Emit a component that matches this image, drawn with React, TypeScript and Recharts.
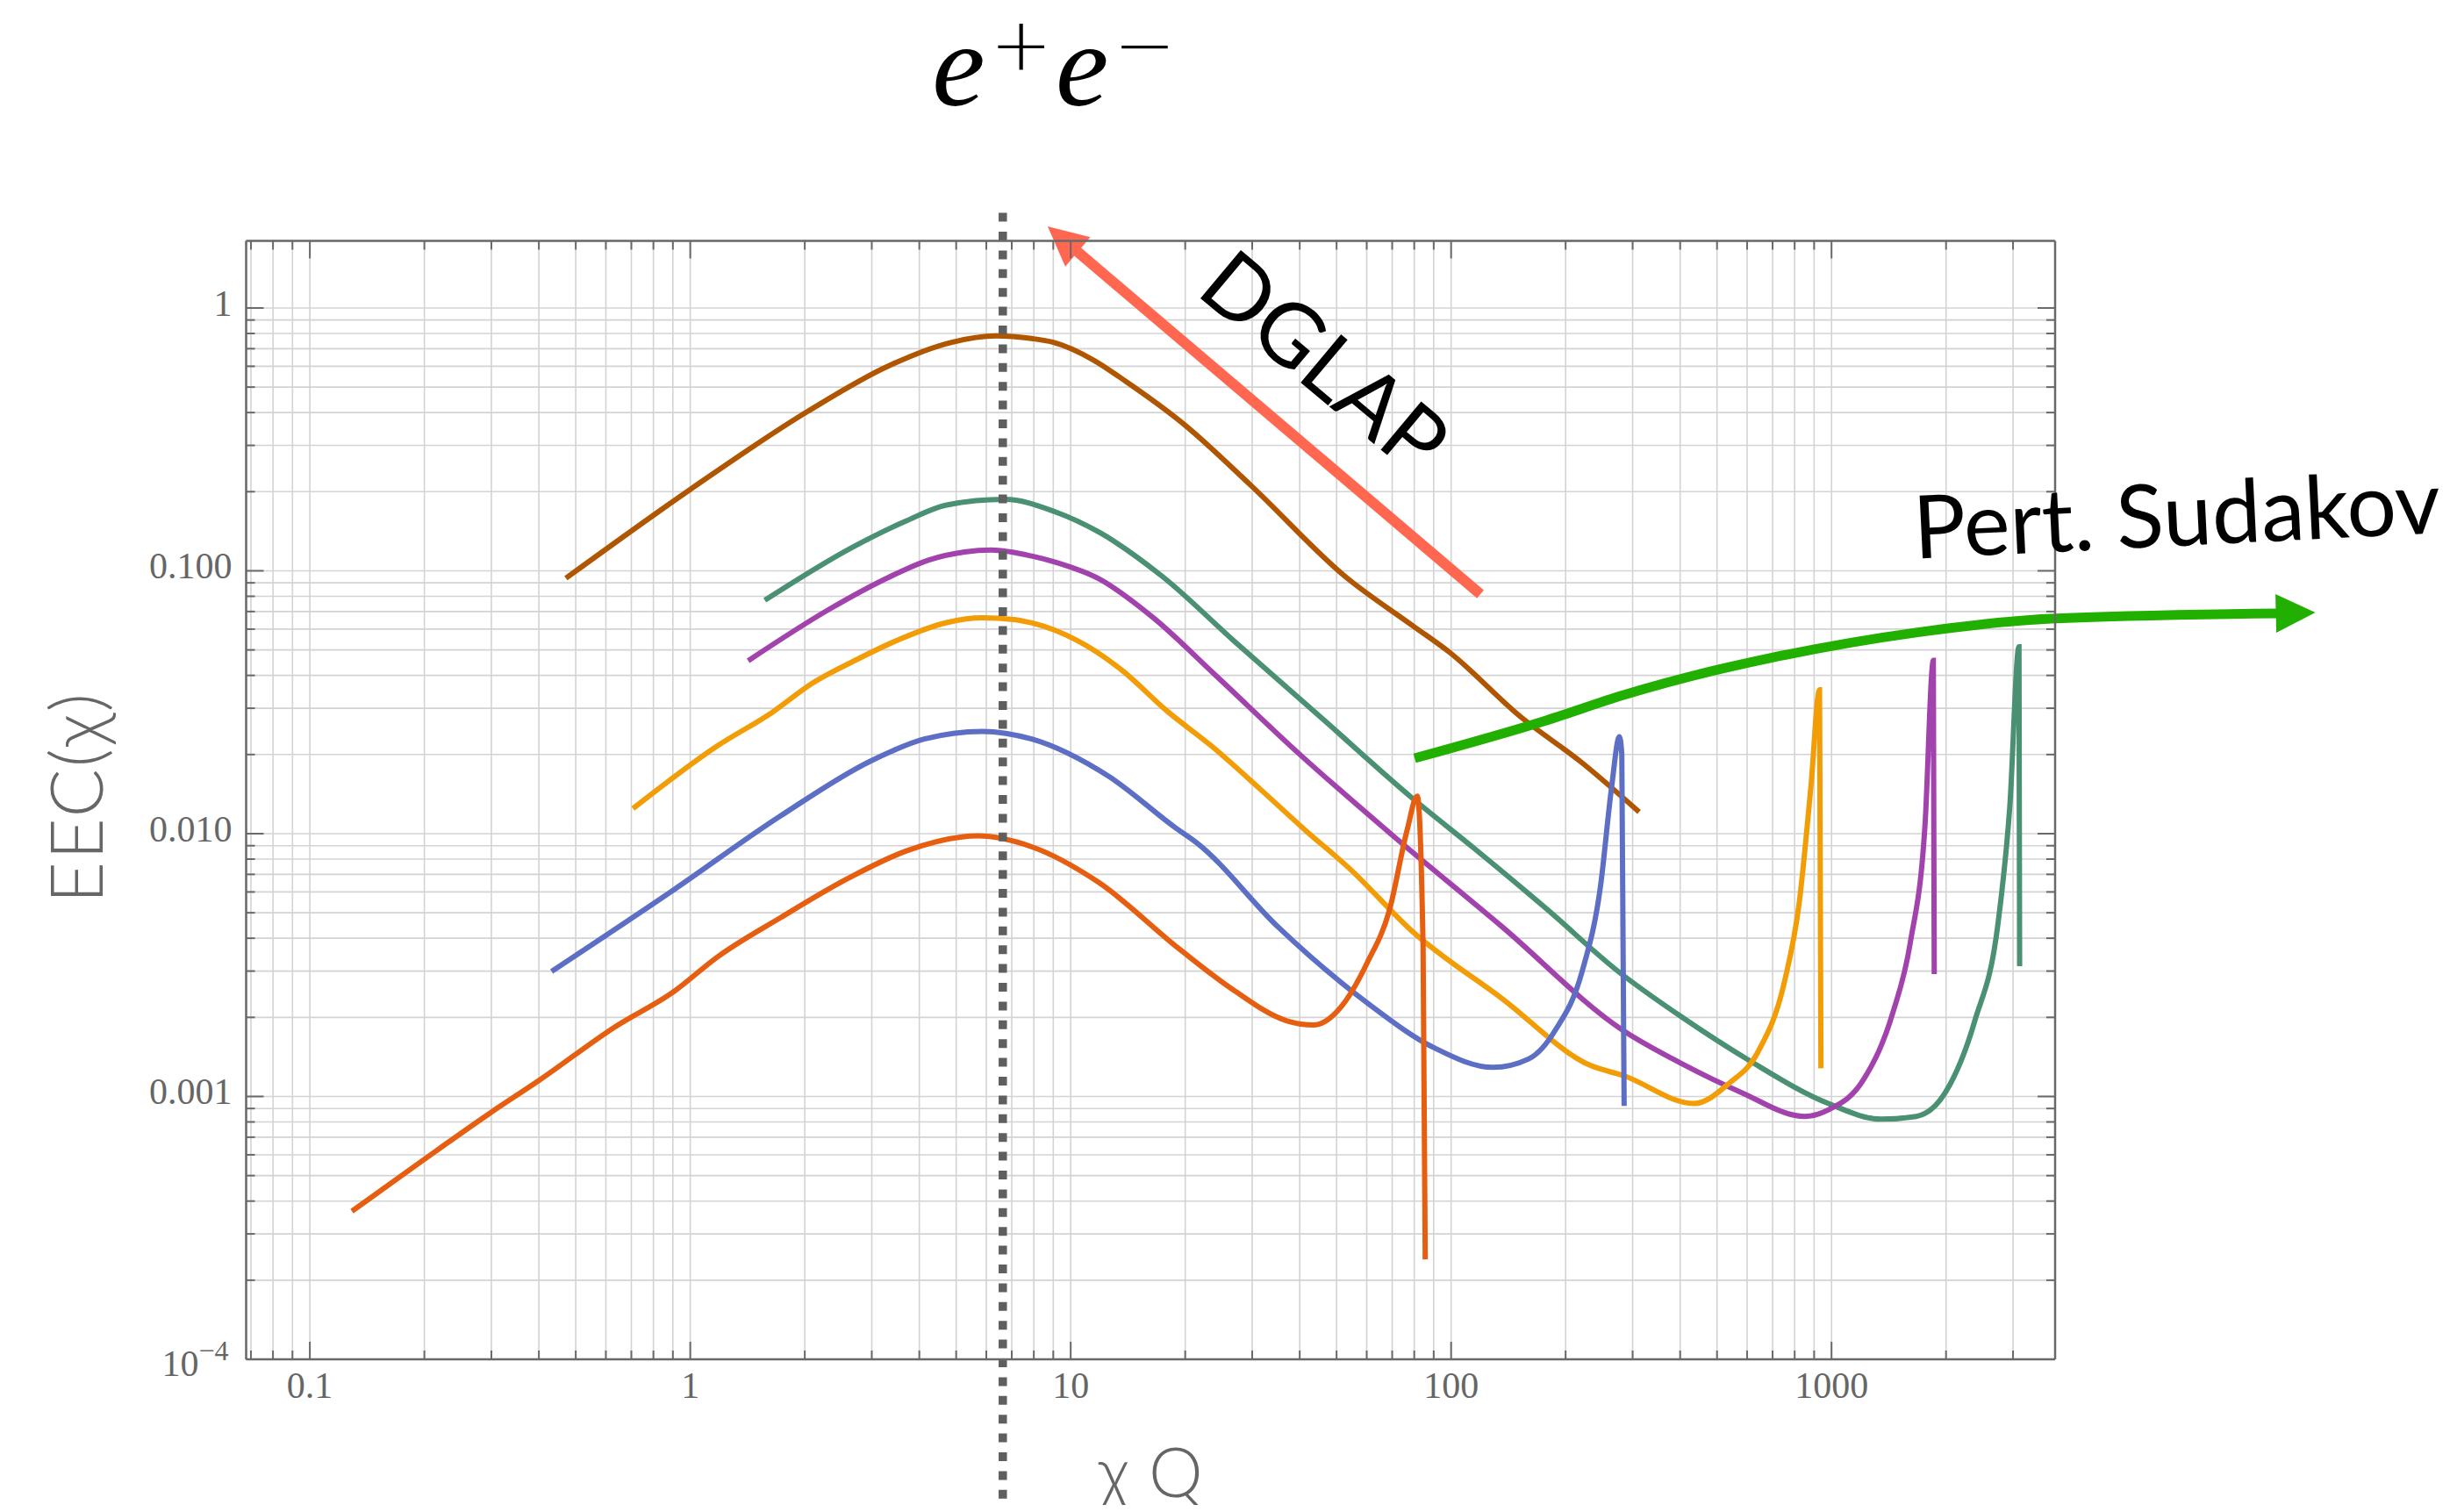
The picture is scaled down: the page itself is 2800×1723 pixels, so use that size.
import React from 'react';
import { ComposedChart, Line, XAxis, YAxis, CartesianGrid, ReferenceLine, ReferenceDot, Curve } from 'recharts';

// axis ranges and ticks (log-log frame)
const xDomain = [0.068, 3870];
const yDomain = [0.0001, 1.8];

const xMajor = [0.1, 1, 10, 100, 1000];
const xMajorLabels = ['0.1', '1', '10', '100', '1000'];
const xMinor = [0.07, 0.08, 0.09, 0.2, 0.3, 0.4, 0.5, 0.6, 0.7, 0.8, 0.9, 2, 3, 4, 5, 6, 7, 8, 9,
  20, 30, 40, 50, 60, 70, 80, 90, 200, 300, 400, 500, 600, 700, 800, 900, 2000, 3000];

const yMajor = [0.0001, 0.001, 0.01, 0.1, 1];
const yMajorLabels = ['10', '0.001', '0.010', '0.100', '1'];
const yMajorSup = ['\u22124', '', '', '', ''];
const yMinor = [0.0002, 0.0003, 0.0004, 0.0005, 0.0006, 0.0007, 0.0008, 0.0009,
  0.002, 0.003, 0.004, 0.005, 0.006, 0.007, 0.008, 0.009,
  0.02, 0.03, 0.04, 0.05, 0.06, 0.07, 0.08, 0.09,
  0.2, 0.3, 0.4, 0.5, 0.6, 0.7, 0.8, 0.9];

const xTicks = [...xMajor, ...xMinor].sort((a, b) => a - b);
const yTicks = [...yMajor, ...yMinor].sort((a, b) => a - b);

// EEC curves, [chi*Q, EEC]
const brownCurve = [[0.471, 0.0937], [1.0, 0.204], [2.04, 0.405], [3.32, 0.602], [4.84, 0.739], [6.36, 0.783],
  [7.9, 0.765], [8.97, 0.741], [11.45, 0.635], [14.0, 0.524], [19.8, 0.362], [29.8, 0.211], [52.6, 0.0953],
  [79.3, 0.0618], [99, 0.049], [152, 0.0279], [222, 0.0185], [312, 0.0121]];

const tealCurve = [[1.57, 0.0773], [2.67, 0.123], [3.7, 0.155], [4.72, 0.178], [6.71, 0.187], [9.07, 0.168],
  [11.9, 0.14], [17.4, 0.0953], [26.8, 0.0543], [46.1, 0.0272], [79.3, 0.0136], [115, 0.00879], [178, 0.00518],
  [275, 0.00299], [405, 0.002], [608, 0.00137], [982, 0.00094], [1350, 0.00082], [1670, 0.00084],
  [1995, 0.00104], [2380, 0.00194], [2740, 0.00457], [2943, 0.0128], [3110, 0.0514], [3122, 0.00313]];

const purpleCurve = [[1.42, 0.0455], [2.33, 0.0717], [3.32, 0.0944], [4.24, 0.11], [5.26, 0.118], [6.19, 0.12],
  [7.9, 0.1138], [9.07, 0.108], [11.9, 0.093], [16.4, 0.0667], [24.1, 0.0399], [39.3, 0.0205], [69.3, 0.01],
  [136, 0.00443], [282, 0.00179], [405, 0.00133], [576, 0.00104], [850, 0.00084], [982, 0.00089],
  [1214, 0.00116], [1449, 0.00208], [1611, 0.00385], [1761, 0.0108], [1852, 0.0456], [1862, 0.00292]];

const orangeCurve = [[0.707, 0.01245], [1.18, 0.0216], [1.64, 0.0289], [2.09, 0.0373], [2.67, 0.0451],
  [3.5, 0.0544], [4.72, 0.0635], [5.86, 0.0662], [7.08, 0.0653], [7.92, 0.0633], [10.4, 0.0543], [13.6, 0.042],
  [17.9, 0.0293], [23.4, 0.0216], [31.6, 0.0147], [41.4, 0.0103], [54.1, 0.00736], [78.9, 0.00426],
  [136, 0.00236], [233, 0.00131], [284, 0.0012], [435, 0.00094], [537, 0.00112], [641, 0.00148],
  [752, 0.00273], [822, 0.00543], [883, 0.0152], [930, 0.0353], [938, 0.00128]];

const blueCurve = [[0.432, 0.00299], [0.903, 0.0061], [1.73, 0.0117], [2.98, 0.0189], [4.12, 0.0229],
  [5.86, 0.0245], [7.9, 0.0229], [12.6, 0.0165], [18.9, 0.0105], [21.5, 0.0092], [35.0, 0.00443], [60.2, 0.00227],
  [90.4, 0.00153], [129, 0.00129], [160, 0.00139], [188, 0.00179], [221, 0.00299], [247, 0.00631],
  [264, 0.0149], [277, 0.0234], [281, 0.02], [285, 0.00092]];

const redCurve = [[0.129, 0.000366], [0.198, 0.000571], [0.297, 0.000863], [0.4, 0.00115], [0.634, 0.00184],
  [0.903, 0.0025], [1.18, 0.0034], [1.73, 0.0048], [2.6, 0.00676], [3.7, 0.0086], [5.12, 0.0097], [5.71, 0.0098],
  [7.9, 0.00891], [11.8, 0.00655], [19.3, 0.00364], [26.7, 0.00255], [37.0, 0.00194], [43.5, 0.00187],
  [51.2, 0.00218], [60.2, 0.00323], [68.8, 0.0051], [76.6, 0.0103], [81.5, 0.0139], [84.4, 0.0037], [85.5, 0.00024]];

// annotations, in data coordinates
const peakLineX = 6.63;
const peakLineSpan = [2.3, 2.86e-5];
const dglapArrow = [[119.4, 0.0815], [8.7, 2.045]];
const sudakovArrow = [[80.2, 0.01937], [177.9, 0.02697], [284, 0.03369], [483, 0.04148], [690, 0.04656],
  [1667, 0.0582], [3776, 0.0658], [18700, 0.0694]];
const dglapLabelAt = [41.2, 0.506];
const sudakovLabelAt = [1654, 0.1112];
const titleAt = [9.03, 5.906];

const FRAME = '#696969';
const LABEL = '#666666';
const SERIF = '"Liberation Serif", "DejaVu Serif", serif';
const SANS = 'Lato, "Open Sans", sans-serif';
const GREEN = '#22b000';
const SALMON = '#ff6751';

const series = [
  { name: 'brown', pts: brownCurve, color: '#b05500' },
  { name: 'teal', pts: tealCurve, color: '#4a9073' },
  { name: 'purple', pts: purpleCurve, color: '#a243ad' },
  { name: 'orange', pts: orangeCurve, color: '#f29c06' },
  { name: 'blue', pts: blueCurve, color: '#5c6fc4' },
  { name: 'red', pts: redCurve, color: '#e65e10' },
];

const toData = (pts: number[][]) => pts.map(([x, y]) => ({ x, y }));

function BottomTick(props: any) {
  const { x, y, payload } = props;
  const i = xMajor.indexOf(payload.value);
  return (
    <g>
      <line x1={x} y1={y} x2={x} y2={y - (i >= 0 ? 20 : 10)} stroke={FRAME} strokeWidth={2} />
      {i >= 0 && (
        <text x={x} y={y + 44} textAnchor="middle" fontFamily={SERIF} fontSize={42} fill={LABEL}>
          {xMajorLabels[i]}
        </text>
      )}
    </g>
  );
}

function TopTick(props: any) {
  const { x, y, payload } = props;
  const major = xMajor.indexOf(payload.value) >= 0;
  return <line x1={x} y1={y} x2={x} y2={y + (major ? 20 : 10)} stroke={FRAME} strokeWidth={2} />;
}

function LeftTick(props: any) {
  const { x, y, payload } = props;
  const i = yMajor.indexOf(payload.value);
  return (
    <g>
      <line x1={x} y1={y} x2={x + (i >= 0 ? 20 : 10)} y2={y} stroke={FRAME} strokeWidth={2} />
      {i >= 0 && yMajorSup[i] === '' && (
        <text x={x - 16} y={y + 9} textAnchor="end" fontFamily={SERIF} fontSize={42} fill={LABEL}>
          {yMajorLabels[i]}
        </text>
      )}
      {i >= 0 && yMajorSup[i] !== '' && (
        <text x={x - 20} y={y + 19} textAnchor="end" fontFamily={SERIF} fontSize={42} fill={LABEL}>
          {yMajorLabels[i]}
          <tspan fontSize={32} dy={-18}>{yMajorSup[i]}</tspan>
        </text>
      )}
    </g>
  );
}

function RightTick(props: any) {
  const { x, y, payload } = props;
  const major = yMajor.indexOf(payload.value) >= 0;
  return <line x1={x} y1={y} x2={x - (major ? 20 : 10)} y2={y} stroke={FRAME} strokeWidth={2} />;
}

function head(tipX: number, tipY: number, ux: number, uy: number, len: number, w: number, color: string) {
  const bx = tipX - ux * len;
  const by = tipY - uy * len;
  const px = (-uy * w) / 2;
  const py = (ux * w) / 2;
  return <polygon points={`${tipX},${tipY} ${bx + px},${by + py} ${bx - px},${by - py}`} fill={color} />;
}

function dglapShape(p: any) {
  const { x1, y1, x2, y2 } = p;
  const len = Math.hypot(x2 - x1, y2 - y1) || 1;
  const ux = (x2 - x1) / len;
  const uy = (y2 - y1) / len;
  return (
    <g>
      <line x1={x1} y1={y1} x2={x2 - ux * 42} y2={y2 - uy * 42} stroke={SALMON} strokeWidth={12} />
      {head(x2, y2, ux, uy, 45, 44, SALMON)}
    </g>
  );
}

// the segment gives the pixel positions of the first and last arrow points;
// the inner points follow the same log mapping
function sudakovShape(p: any) {
  const { x1, y1, x2, y2 } = p;
  const a = sudakovArrow[0];
  const b = sudakovArrow[sudakovArrow.length - 1];
  const fx = (v: number) => x1 + (Math.log(v / a[0]) / Math.log(b[0] / a[0])) * (x2 - x1);
  const fy = (v: number) => y1 + (Math.log(v / a[1]) / Math.log(b[1] / a[1])) * (y2 - y1);
  const pts = sudakovArrow.map(([x, y]) => ({ x: fx(x), y: fy(y) }));
  const tip = pts[pts.length - 1];
  const prev = pts[pts.length - 2];
  const len = Math.hypot(tip.x - prev.x, tip.y - prev.y) || 1;
  const ux = (tip.x - prev.x) / len;
  const uy = (tip.y - prev.y) / len;
  const shaft = [...pts.slice(0, -1), { x: tip.x - ux * 42, y: tip.y - uy * 42 }];
  return (
    <g>
      <Curve type="monotoneX" points={shaft} stroke={GREEN} strokeWidth={11} fill="none" />
      {head(tip.x, tip.y, ux, uy, 45, 44, GREEN)}
    </g>
  );
}

export default function App() {
  return (
    <div style={{ width: 2800, height: 1723, margin: -8 }}>
      <ComposedChart
        width={2800}
        height={1723}
        margin={{ top: 254.5, right: 438, bottom: 74, left: 80.5 }}
      >
        <CartesianGrid stroke="#d3d3d3" strokeWidth={1.6} />
        <XAxis
          dataKey="x"
          type="number"
          scale="log"
          domain={xDomain}
          allowDataOverflow
          ticks={xTicks}
          interval={0}
          tick={<BottomTick />}
          tickLine={false}
          tickSize={0}
          tickMargin={0}
          height={100}
          axisLine={{ stroke: FRAME, strokeWidth: 2.5 }}
          label={{
            content: (p: any) => {
              const vb = p.viewBox;
              return (
                <text x={vb.x + vb.width / 2} y={vb.y + 157} textAnchor="middle" fontFamily={SANS} fontWeight={300} fontSize={78} fill={LABEL}>
                  {'\u03c7 Q'}
                </text>
              );
            },
          }}
        />
        <XAxis
          xAxisId="top"
          orientation="top"
          dataKey="x"
          type="number"
          scale="log"
          domain={xDomain}
          allowDataOverflow
          ticks={xTicks}
          interval={0}
          tick={<TopTick />}
          tickLine={false}
          tickSize={0}
          tickMargin={0}
          height={20}
          axisLine={{ stroke: FRAME, strokeWidth: 2.5 }}
        />
        <YAxis
          type="number"
          scale="log"
          domain={yDomain}
          allowDataOverflow
          ticks={yTicks}
          interval={0}
          tick={<LeftTick />}
          tickLine={false}
          tickSize={0}
          tickMargin={0}
          width={200}
          axisLine={{ stroke: FRAME, strokeWidth: 2.5 }}
          label={{
            content: (p: any) => {
              const vb = p.viewBox;
              const lx = vb.x + vb.width - 163.5;
              const ly = vb.y + vb.height / 2 - 3;
              return (
                <text x={lx} y={ly} transform={`rotate(-90, ${lx}, ${ly})`} textAnchor="middle" fontFamily={SANS} fontWeight={300} fontSize={82} letterSpacing={2} fill={LABEL}>
                  {'EEC(\u03c7)'}
                </text>
              );
            },
          }}
        />
        <YAxis
          yAxisId="right"
          orientation="right"
          type="number"
          scale="log"
          domain={yDomain}
          allowDataOverflow
          ticks={yTicks}
          interval={0}
          tick={<RightTick />}
          tickLine={false}
          tickSize={0}
          tickMargin={0}
          width={20}
          axisLine={{ stroke: FRAME, strokeWidth: 2.5 }}
        />

        {series.map((s) => (
          <Line
            key={s.name}
            data={toData(s.pts)}
            dataKey="y"
            type="monotone"
            stroke={s.color}
            strokeWidth={6}
            dot={false}
            activeDot={false}
            isAnimationActive={false}
          />
        ))}

        <ReferenceLine
          segment={[{ x: peakLineX, y: peakLineSpan[0] }, { x: peakLineX, y: peakLineSpan[1] }]}
          stroke="#5f5f5f"
          strokeWidth={9.5}
          strokeDasharray="10 11.4"
          ifOverflow="visible"
        />

        <ReferenceLine
          segment={[{ x: dglapArrow[0][0], y: dglapArrow[0][1] }, { x: dglapArrow[1][0], y: dglapArrow[1][1] }]}
          ifOverflow="visible"
          shape={dglapShape}
        />

        <ReferenceLine
          segment={[
            { x: sudakovArrow[0][0], y: sudakovArrow[0][1] },
            { x: sudakovArrow[sudakovArrow.length - 1][0], y: sudakovArrow[sudakovArrow.length - 1][1] },
          ]}
          ifOverflow="visible"
          shape={sudakovShape}
        />

        <ReferenceDot
          x={dglapLabelAt[0]}
          y={dglapLabelAt[1]}
          ifOverflow="visible"
          shape={(p: any) => (
            <text x={p.cx} y={p.cy} transform={`rotate(40, ${p.cx}, ${p.cy})`} textAnchor="middle" fontFamily={SANS} fontSize={100} fill="#000">
              DGLAP
            </text>
          )}
        />
        <ReferenceDot
          x={sudakovLabelAt[0]}
          y={sudakovLabelAt[1]}
          ifOverflow="visible"
          shape={(p: any) => (
            <text x={p.cx} y={p.cy} transform={`rotate(-2.8, ${p.cx}, ${p.cy})`} textAnchor="start" fontFamily={SANS} fontSize={100} fill="#000">
              Pert. Sudakov
            </text>
          )}
        />
        <ReferenceDot
          x={titleAt[0]}
          y={titleAt[1]}
          ifOverflow="visible"
          shape={(p: any) => (
            <text x={p.cx} y={p.cy} textAnchor="middle" fontFamily={SERIF} fontSize={136} fill="#000">
              <tspan fontStyle="italic">e</tspan>
              <tspan fontFamily='"DejaVu Sans", sans-serif' fontWeight={200} fontSize={84} dx={6} dy={-40}>+</tspan>
              <tspan fontStyle="italic" dx={4} dy={40}>e</tspan>
              <tspan fontFamily='"DejaVu Sans", sans-serif' fontWeight={200} fontSize={84} dx={6} dy={-40}>{'\u2212'}</tspan>
            </text>
          )}
        />
      </ComposedChart>
    </div>
  );
}
